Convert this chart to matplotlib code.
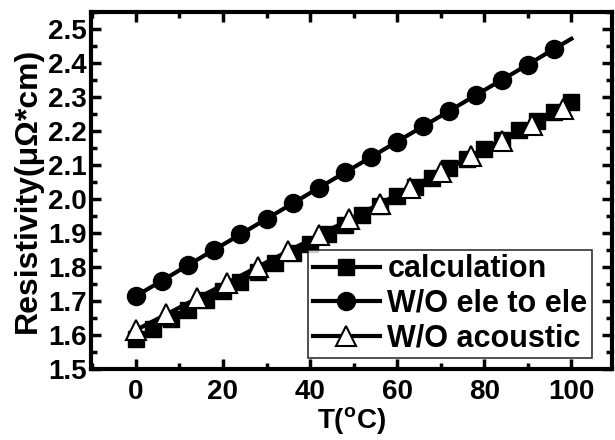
import matplotlib
matplotlib.use("Agg")
import matplotlib.pyplot as plt
from matplotlib.ticker import MultipleLocator

plt.rcParams['font.family'] = ['Liberation Sans', 'DejaVu Sans']
plt.rcParams['font.weight'] = 'bold'
plt.rcParams['mathtext.fontset'] = 'custom'
plt.rcParams['mathtext.rm'] = 'Liberation Sans:bold'
plt.rcParams['mathtext.bf'] = 'Liberation Sans:bold'

# calculation (squares, every 4 degC)
t_calc = [0, 4, 8, 12, 16, 20, 24, 28, 32, 36, 40, 44, 48, 52, 56, 60, 64, 68,
          72, 76, 80, 84, 88, 92, 96, 100]
rho_calc = [1.590, 1.618, 1.646, 1.674, 1.702, 1.730, 1.757, 1.785, 1.813, 1.841,
            1.869, 1.897, 1.924, 1.952, 1.980, 2.008, 2.035, 2.063, 2.091, 2.118,
            2.146, 2.174, 2.202, 2.230, 2.257, 2.285]

# W/O ele to ele (circles, every 6 degC; line runs on to 100)
t_ee = [0, 6, 12, 18, 24, 30, 36, 42, 48, 54, 60, 66, 72, 78, 84, 90, 96, 100]
rho_ee = [1.715, 1.760, 1.806, 1.851, 1.896, 1.942, 1.987, 2.033, 2.078, 2.123,
          2.169, 2.214, 2.259, 2.305, 2.350, 2.395, 2.441, 2.471]

# W/O acoustic (open triangles, every 7 degC)
t_ac = [0, 7, 14, 21, 28, 35, 42, 49, 56, 63, 70, 77, 84, 91, 98]
rho_ac = [1.615, 1.661, 1.708, 1.754, 1.801, 1.847, 1.893, 1.940, 1.986, 2.033,
          2.079, 2.126, 2.172, 2.219, 2.265]

fig = plt.figure(figsize=(6.15, 4.4), dpi=100)
ax = fig.add_axes([0.148, 0.161, 0.847, 0.812])

ax.plot(t_calc, rho_calc, color='black', lw=3, marker='s', ms=12,
        label='calculation', zorder=3)
ax.plot(t_ee, rho_ee, color='black', lw=3, marker='o', ms=13,
        markevery=list(range(17)), label='W/O ele to ele', zorder=3)
ax.plot(t_ac, rho_ac, color='black', lw=3, marker='^', ms=14, mfc='white',
        mec='black', mew=1.5, label='W/O acoustic', zorder=4)

ax.set_xlim(-10.3, 109.3)
ax.set_ylim(1.5, 2.55)
ax.xaxis.set_major_locator(MultipleLocator(20))
ax.xaxis.set_minor_locator(MultipleLocator(10))
ax.yaxis.set_minor_locator(MultipleLocator(0.05))
ax.set_yticks([1.5, 1.6, 1.7, 1.8, 1.9, 2.0, 2.1, 2.2, 2.3, 2.4, 2.5])
ax.set_yticklabels(['1.5', '1.6', '1.7', '1.8', '1.9', '2.0', '2.1', '2.2',
                    '2.3', '2.4', '2.5'])

ax.tick_params(which='both', direction='in', top=True, right=True, width=2.5)
ax.tick_params(which='major', length=7, labelsize=20, pad=3)
ax.tick_params(axis='x', which='major', pad=7)
ax.tick_params(which='minor', length=4)
for s in ax.spines.values():
    s.set_linewidth(3)
for lab in ax.get_xticklabels() + ax.get_yticklabels():
    lab.set_fontweight('bold')

ax.set_xlabel(r'T($^{\mathrm{o}}$C)', fontsize=20, fontweight='bold', labelpad=0)
ax.set_ylabel('Resistivity(μΩ*cm)', fontsize=23, fontweight='bold', labelpad=4)

leg = ax.legend(loc='lower right', bbox_to_anchor=(0.962, 0.031), fontsize=22,
                frameon=True, fancybox=False, edgecolor='black',
                handlelength=2.2, handletextpad=0.25, borderpad=0.15,
                labelspacing=0.15, borderaxespad=0.0)
leg.get_frame().set_linewidth(1.2)
for t in leg.get_texts():
    t.set_fontweight('bold')

fig.savefig('out.png', dpi=100)
